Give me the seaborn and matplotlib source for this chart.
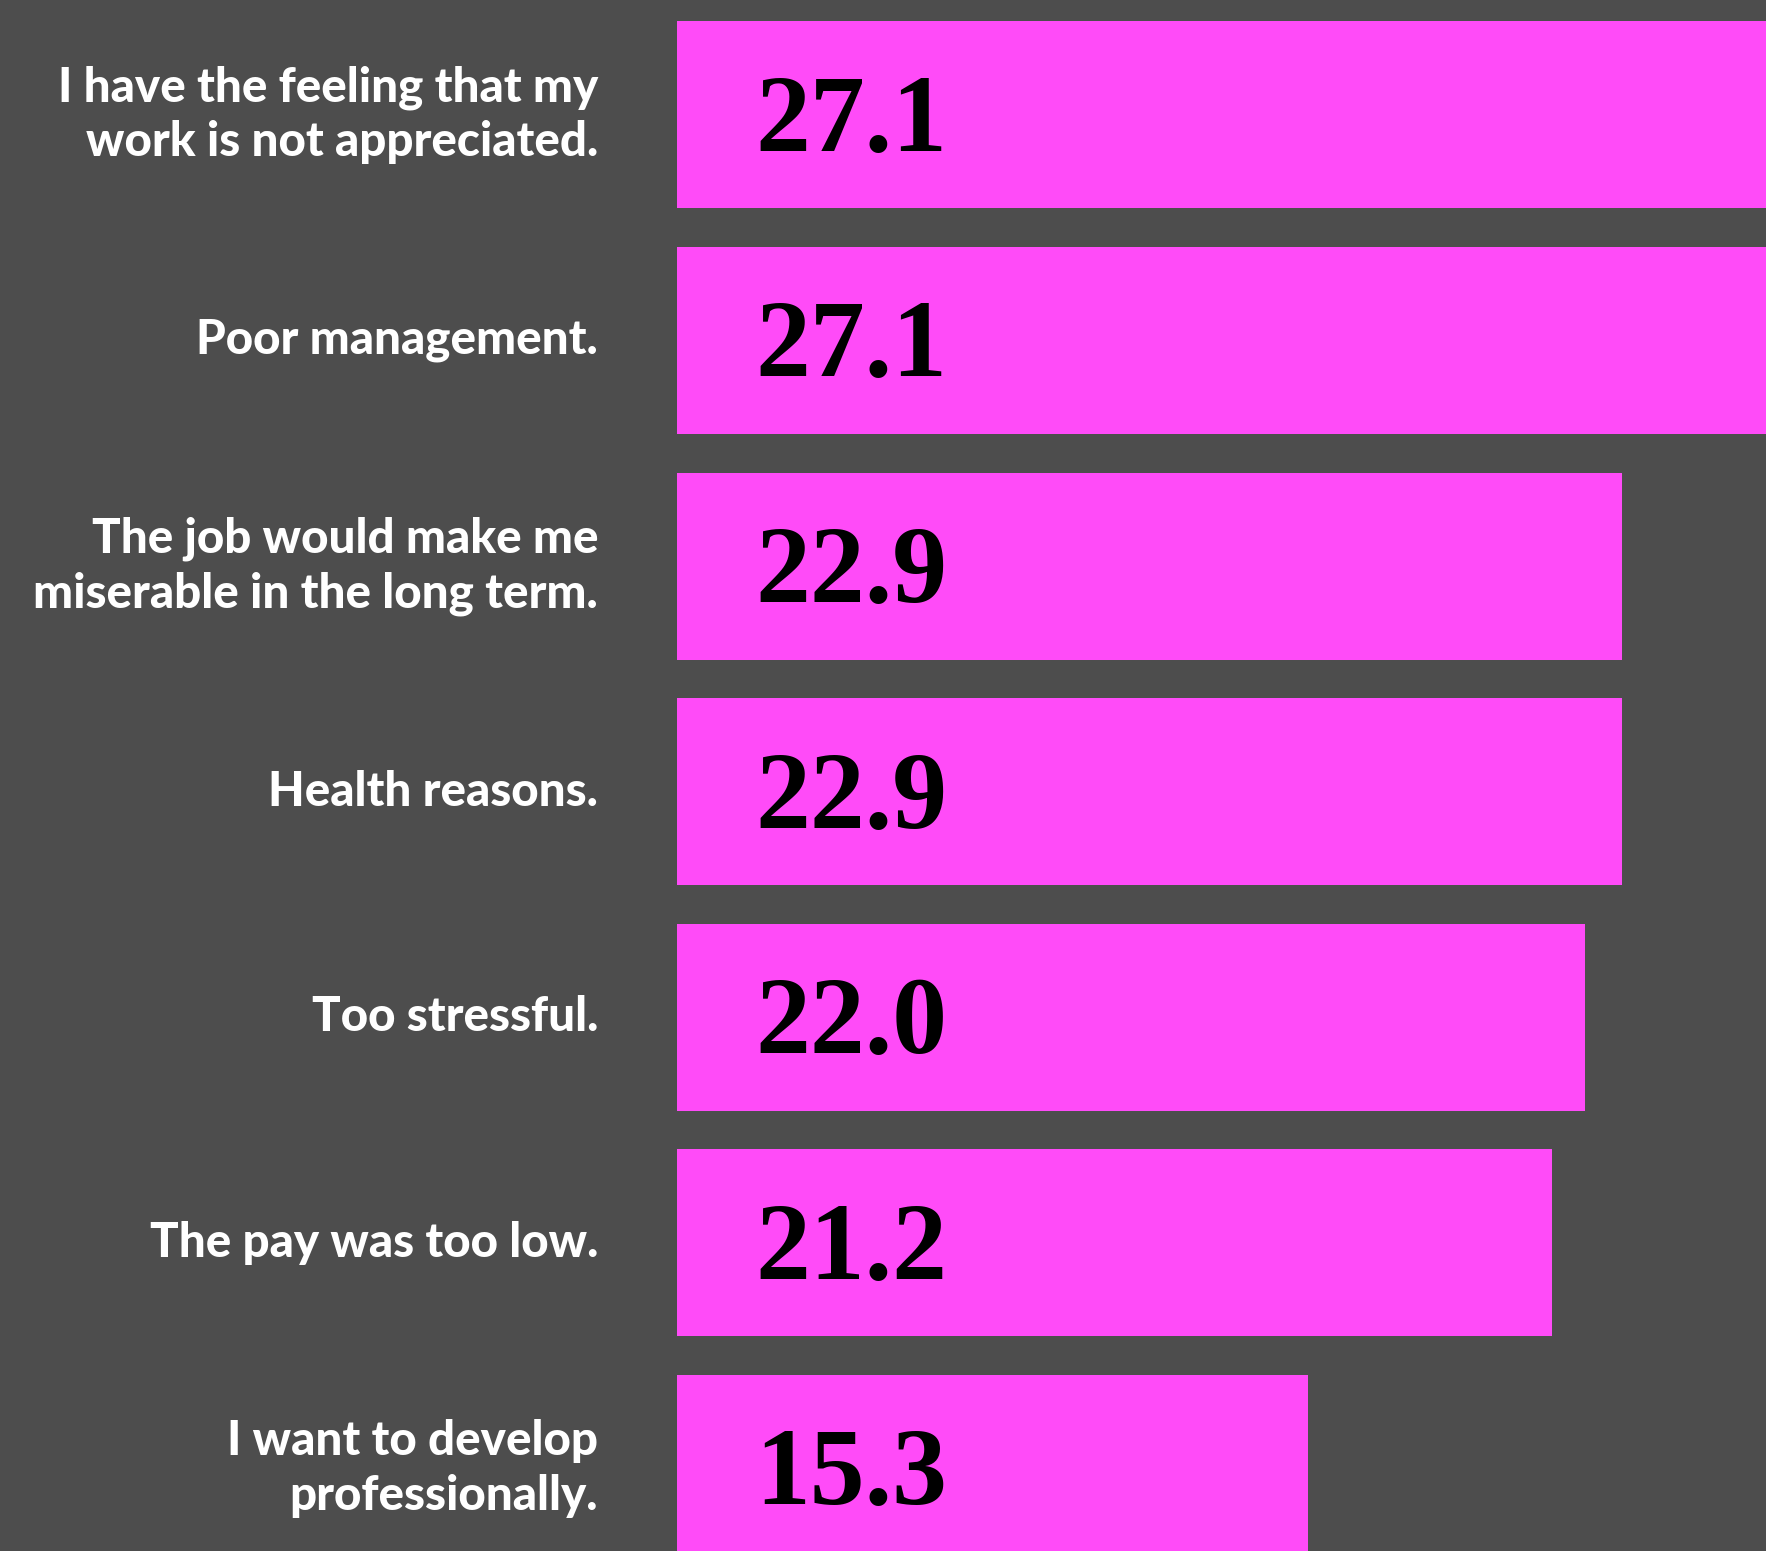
import matplotlib
matplotlib.use("Agg")
import matplotlib.pyplot as plt
import matplotlib.transforms as mtransforms
import seaborn as sns
import pandas as pd

reasons = [
    "I have the feeling that my\nwork is not appreciated.",
    "Poor management.",
    "The job would make me\nmiserable in the long term.",
    "Health reasons.",
    "Too stressful.",
    "The pay was too low.",
    "I want to develop\nprofessionally.",
]
shares = [27.1, 27.1, 22.9, 22.9, 22.0, 21.2, 15.3]

BG = "#4d4d4d"
BAR = "#ff4bf8"

sns.set_theme(style="white")
plt.rcParams["font.family"] = ["Lato", "DejaVu Sans"]

df = pd.DataFrame({"reason": reasons, "share": shares})

W, H, DPI = 1766, 1551, 100
fig = plt.figure(figsize=(W / DPI, H / DPI), dpi=DPI, facecolor=BG)
left = 677 / W
ax = fig.add_axes([left, 0, 1 - left, 1])
ax.set_facecolor(BG)

sns.barplot(data=df, x="share", y="reason", orient="h", color=BAR,
            saturation=1, width=0.829, ax=ax, linewidth=0)

ax.set_xlim(0, 26.39)
ax.set_ylim(6.366, -0.509)
ax.set_xticks([])
ax.set_yticks([])
ax.set_xlabel("")
ax.set_ylabel("")
for s in ax.spines.values():
    s.set_visible(False)

px = 72 / DPI
trans = mtransforms.blended_transform_factory(ax.transAxes, ax.transData)
for i, (lab, val) in enumerate(zip(reasons, shares)):
    ax.annotate(lab, xy=(0, i), xycoords=trans,
                xytext=(-79 * px, 0), textcoords="offset points",
                ha="right", va="center", multialignment="right",
                fontsize=34.2, fontweight="black", color="white",
                linespacing=1.3)
    ax.annotate(f"{val:.1f}", xy=(0, i), xycoords=("data", "data"),
                xytext=(78 * px, -36 * px), textcoords="offset points",
                ha="left", va="baseline",
                fontsize=79, fontweight="bold", color="black",
                family=["Liberation Serif", "DejaVu Serif"])

fig.savefig("out.png", dpi=DPI, facecolor=BG)
